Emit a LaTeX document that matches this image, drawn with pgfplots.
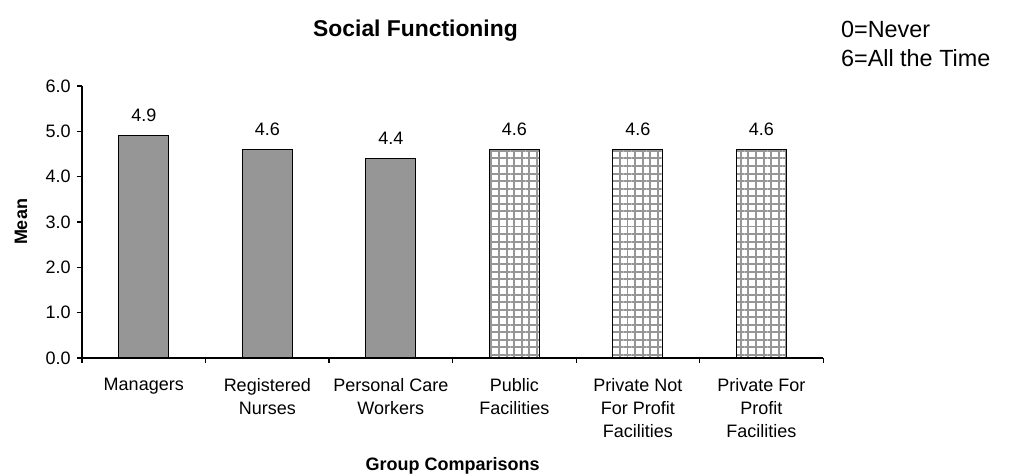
\documentclass[border=0pt]{standalone}
\usepackage{pgfplots}
\pgfplotsset{compat=1.18}
\usepackage{fontspec}
\setmainfont{Liberation Sans}
\usetikzlibrary{patterns.meta}
\definecolor{bargray}{RGB}{150,150,150}
\definecolor{hatchgray}{RGB}{150,150,150}
\begin{document}
\begin{tikzpicture}
\begin{axis}[
  scale only axis,
  clip=false,
  width=411.7pt, height=151.1pt,
  axis lines*=left,
  axis line style={line width=0.6pt, black},
  xmin=-0.5, xmax=5.5,
  ymin=0, ymax=6,
  ytick={0,1,2,3,4,5,6},
  xtick={0,1,2,3,4,5},
  xticklabels={Managers, Registered\\Nurses, Personal Care\\Workers, Public\\Facilities, Private Not\\For Profit\\Facilities, Private For\\Profit\\Facilities},
  minor xtick={-0.5,0.5,1.5,2.5,3.5,4.5,5.5},
  major x tick style={draw=none},
  minor x tick style={black, line width=0.6pt},
  y tick style={black, line width=0.6pt},
  tick align=outside,
  major tick length=2.8pt,
  minor tick length=2.8pt,
  tick label style={font=\fontsize{10}{12.8}\selectfont},
  xticklabel style={align=center, anchor=north, yshift=-5pt},
  yticklabel style={/pgf/number format/.cd, fixed, fixed zerofill, precision=1, assume math mode=true},
  ybar, bar width=27.8pt,
  nodes near coords={\pgfmathprintnumber[fixed, fixed zerofill, precision=1, assume math mode=true]{\pgfplotspointmeta}},
  every node near coord/.append style={font=\fontsize{10}{12}\selectfont, anchor=base, yshift=7.8pt, black},
  title={Social Functioning},
  title style={font=\bfseries\fontsize{12.7}{15}\selectfont, at={(axis description cs:0.45,1)}, anchor=base, yshift=21.7pt},
  xlabel={Group Comparisons},
  xlabel style={font=\bfseries\fontsize{10}{12}\selectfont, at={(axis description cs:0.5,-0.4154)}, anchor=base},
  ylabel={Mean},
  ylabel style={font=\bfseries\fontsize{10}{12}\selectfont, at={(axis description cs:-0.0823,0.5)}, anchor=center},
]
\addplot[fill=bargray, draw=black, line width=0.6pt, bar shift=0pt]
  coordinates {(0,4.9) (1,4.6) (2,4.4)};
\addplot[pattern={Hatch[angle=0,distance=4.2pt,line width=1.1pt]}, pattern color=hatchgray, draw=black, line width=0.6pt, bar shift=0pt]
  coordinates {(3,4.6) (4,4.6) (5,4.6)};
\node[anchor=base west, font=\fontsize{13}{15}\selectfont, inner sep=0pt, xshift=9.8pt, yshift=26.7pt] at (axis description cs:1,1) {0=Never};
\node[anchor=base west, font=\fontsize{13}{15}\selectfont, inner sep=0pt, xshift=9.8pt, yshift=10.7pt] at (axis description cs:1,1) {6=All the Time};
\end{axis}
\pgfresetboundingbox
\path[use as bounding box] ([xshift=-45.56pt,yshift=-65.56pt]current axis.south west) rectangle ([xshift=104.4pt,yshift=47.78pt]current axis.north east);
\end{tikzpicture}
\end{document}
